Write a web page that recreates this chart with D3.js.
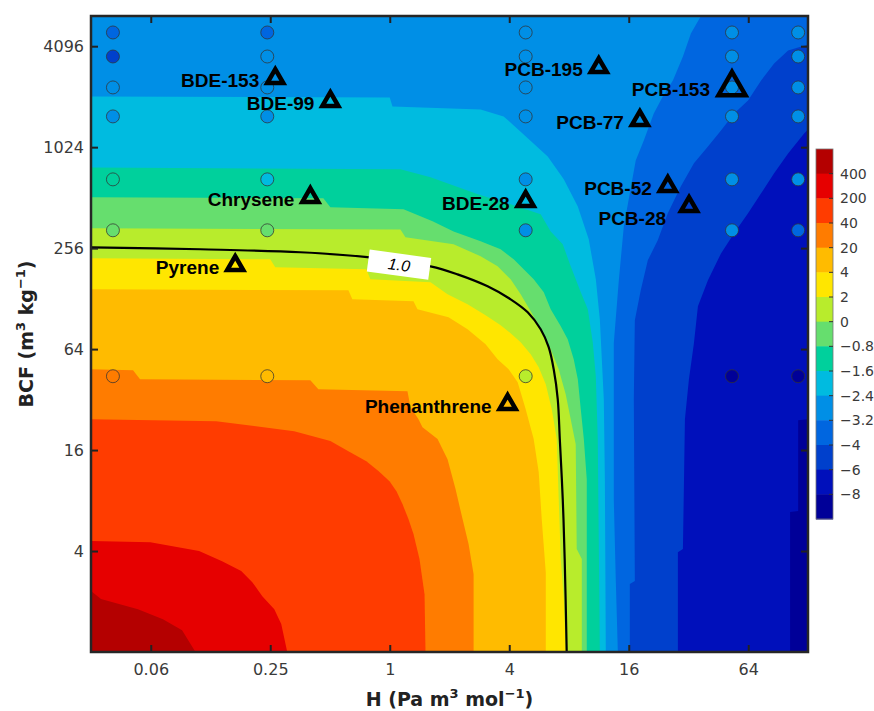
<!DOCTYPE html>
<html>
<head>
<meta charset="utf-8">
<script src="https://cdn.jsdelivr.net/npm/d3@7/dist/d3.min.js"></script>
<style>
  body { margin: 0; background: #fff; }
  svg text { font-family: "DejaVu Sans", sans-serif; }
</style>
</head>
<body>
<svg width="874" height="711"></svg>
<script>
// colour levels, highest band first (15 bands, 14 boundaries)
const levelLabels = ["400", "200", "40", "20", "4", "2", "0", "\u22120.8", "\u22121.6", "\u22122.4", "\u22123.2", "\u22124", "\u22126", "\u22128"];
const levelColors = ["#b40000", "#e60000", "#ff3c00", "#ff7c00", "#ffbb00", "#ffe600", "#b8ec2c",
  "#66de6e", "#00d09c", "#00bbe0", "#008fe6", "#0066e0", "#0040cc", "#0010bb", "#000098"];

// axis ticks
const xTicks = [0.0625, 0.25, 1, 4, 16, 64];
const xTickLabels = ["0.06", "0.25", "1", "4", "16", "64"];
const yTicks = [4, 16, 64, 256, 1024, 4096];
const yTickLabels = ["4", "16", "64", "256", "1024", "4096"];

// filled-contour boundaries, [H, BCF] pairs
const bound400 = [[0.03125, 2.31], [0.0351, 2.07], [0.0539, 1.80], [0.072, 1.57], [0.0899, 1.35], [0.105, 1]];
const bound200 = [[0.03125, 4.59], [0.0622, 4.52], [0.1095, 4.0], [0.143, 3.48], [0.1785, 3.04], [0.203, 2.61], [0.228, 2.15], [0.262, 1.80], [0.284, 1.47], [0.3045, 1]];
const bound40 = [[0.03125, 24.4], [0.1335, 23.8], [0.330, 20.7], [0.502, 18.1], [0.619, 15.75], [0.762, 13.7], [0.877, 12.0], [1.0, 10.4], [1.081, 9.1], [1.159, 7.62], [1.242, 6.2], [1.317, 5.05], [1.412, 3.58], [1.497, 2.21], [1.514, 1]];
const bound20 = [[0.03125, 48.5], [0.0509, 47.9], [0.0552, 42.3], [0.398, 41.7], [0.437, 36.9], [1.228, 35.9], [1.272, 28.8], [1.396, 24.4], [1.462, 21.9], [1.741, 18.6], [1.955, 14.1], [2.145, 9.36], [2.327, 6.2], [2.495, 4.4], [2.645, 2.91], [2.645, 1]];
const bound4 = [[0.03125, 145.5], [0.619, 143.5], [0.648, 126.8], [1.317, 123.4], [1.379, 110.6], [1.978, 99.1], [2.466, 84], [3.04, 68.4], [3.494, 55.7], [3.972, 48.5], [4.41, 40.6], [4.84, 28], [5.31, 18.6], [5.63, 11.8], [5.83, 6.2], [6.11, 2.99], [6.11, 1]];
const bound2 = [[0.03125, 223], [0.25, 219.5], [0.265, 196.7], [0.762, 191.4], [0.799, 166.8], [1.605, 160.1], [1.955, 135.8], [2.466, 118.4], [3.04, 101.8], [3.62, 88.8], [4.065, 79.6], [4.566, 70.3], [5.13, 59.6], [5.63, 49.9], [6.11, 39.5], [6.55, 28], [6.94, 18.6], [7.10, 8.16], [7.27, 3.58], [7.53, 2.07], [7.70, 1]];
const bound0 = [[0.03125, 336], [1.132, 331], [1.2, 297], [2.097, 270], [2.869, 229], [3.494, 199.4], [4.065, 166.8], [4.566, 135.8], [5.13, 107.6], [5.76, 84], [6.47, 63.9], [7.10, 48.5], [7.70, 34.4], [8.16, 24.4], [8.65, 17.3], [8.75, 4.11], [9.28, 3.58], [9.28, 1]];
const boundM08 = [[0.03125, 514], [0.463, 507], [0.502, 448], [1.173, 436], [1.643, 370], [2.097, 322], [2.869, 281], [3.62, 252], [4.21, 219.5], [4.728, 191.4], [5.31, 166.8], [5.97, 139.6], [6.47, 110.6], [7.27, 87.6], [7.88, 73.3], [8.45, 55.7], [8.86, 42.3], [9.17, 28], [9.5, 18.6], [9.83, 10.7], [9.83, 1]];
const boundM16 = [[0.03125, 775], [1.132, 755], [1.605, 677], [2.803, 535], [4.065, 467], [5.76, 407], [6.47, 322], [7.44, 270], [8.16, 199.4], [9.17, 139.6], [9.95, 110.6], [10.54, 70.3], [10.92, 44.1], [11.17, 18.6], [11.44, 1]];
const boundM24 = [[0.03125, 2055], [1.0, 2027], [1.032, 1791], [2.869, 1718], [3.748, 1562], [4.728, 1220], [6.25, 902], [7.53, 658], [8.86, 454], [10.06, 289], [10.92, 166.8], [11.44, 96.4], [11.98, 32.2], [12.13, 10.7], [12.26, 1]];
const boundM32 = [[36.97, 6200], [32.9, 4875], [30.0, 3556], [26.7, 2558], [23.75, 2055], [21.39, 1627], [19.05, 1123], [17.35, 854], [15.11, 345], [14.26, 164.5], [13.45, 69.4], [13.45, 8.16], [13.77, 2.65], [14.1, 1]];
const boundM4 = [[128, 4193], [101.6, 3862], [86.4, 3232], [74.3, 2558], [63.85, 1945], [54.3, 1627], [46.65, 1289], [40.1, 1035], [34.08, 820], [29.3, 598], [25.17, 413], [22.4, 285], [19.96, 216.5], [18.39, 143.5], [17.17, 95.1], [16.97, 32.2], [17.17, 2.65], [16.2, 2.54], [16.2, 1]];
const boundM6 = [[128, 1306], [122.4, 1237], [101.6, 940], [86.4, 715], [74.3, 543], [63.85, 413], [54.3, 314], [46.65, 238], [40.1, 164.5], [35.7, 115.2], [34.08, 69.4], [32.16, 42.3], [30.7, 24.4], [30.0, 4.11], [28.29, 3.94], [28.29, 1]];
const boundM8 = [[128, 24.4], [114.2, 24.1], [114.2, 6.92], [104, 6.83], [104, 1]];
const boundaries = [bound400, bound200, bound40, bound20, bound4, bound2, bound0, boundM08, boundM16, boundM24, boundM32, boundM4, boundM6, boundM8];

// the 1.0 contour line and where its label sits
const contourOne = [[0.03125, 259], [0.111, 252], [0.354, 242], [0.771, 226], [1.605, 199.4], [2.196, 178.6], [3.112, 151.6], [4.065, 126.8], [4.955, 106.1], [5.76, 84], [6.32, 65.7], [6.70, 48.5], [7.02, 32.2], [7.19, 18.6], [7.44, 8.16], [7.61, 3.58], [7.79, 1]];
const contourOneLabel = [1.113, 204];

// sampled points (columns of H, rows of BCF) and the band each one is coloured with
const sampleH = [0.0403, 0.2415, 4.84, 53.0, 114.2];
const sampleBCF = [4945, 3556, 2325, 1562, 658, 327, 44.1];
const sampleBand = [
  [11, 12, 10, 10, 8, 7, 3],
  [11, 10, 10, 10, 9, 7, 4],
  [10, 10, 10, 10, 10, 10, 6],
  [10, 10, 10, 10, 10, 10, 14],
  [10, 10, 10, 10, 10, 11, 14]
];

// compounds
const compounds = ["BDE-153", "BDE-99", "Chrysene", "Pyrene", "BDE-28", "PCB-195", "PCB-153", "PCB-77", "PCB-52", "PCB-28", "Phenanthrene"];
const compoundH = [0.265, 0.502, 0.398, 0.1665, 4.84, 11.3, 53.0, 18.2, 25.17, 32.2, 3.925];
const compoundBCF = [2631, 1919, 514, 202, 487, 3057, 2325, 1479, 598, 454, 30.0];

const svg = d3.select("svg");
const plot = { left: 91, right: 808, top: 16, bottom: 652 };

const x = d3.scaleLog().base(2).domain([1 / 32, 128]).range([plot.left, plot.right]);
const y = d3.scaleLog().base(2).domain([1, 6200]).range([plot.bottom, plot.top]);

svg.append("defs").append("clipPath").attr("id", "plotClip")
  .append("rect")
  .attr("x", plot.left).attr("y", plot.top)
  .attr("width", plot.right - plot.left).attr("height", plot.bottom - plot.top);

// filled contours: lowest band as background, then paint each higher region on top
const field = svg.append("g").attr("clip-path", "url(#plotClip)");
field.append("rect")
  .attr("x", plot.left).attr("y", plot.top)
  .attr("width", plot.right - plot.left).attr("height", plot.bottom - plot.top)
  .attr("fill", levelColors[14]);

const line = d3.line();
for (let i = boundaries.length - 1; i >= 0; i--) {
  const pts = boundaries[i].map(([h, b]) => [x(h), y(b)]);
  const [sx, sy] = pts[0];
  pts.push([plot.left, plot.bottom]);
  if (sy <= plot.top + 0.5 || sx >= plot.right - 0.5) pts.push([plot.left, plot.top]);
  if (sx >= plot.right - 0.5) pts.push([plot.right, plot.top]);
  field.append("path")
    .attr("d", line(pts) + "Z")
    .attr("fill", levelColors[i]);
}

// sample circles
const samples = [];
sampleH.forEach((h, c) => sampleBCF.forEach((b, r) => samples.push({ h, b, band: sampleBand[c][r] })));
field.selectAll(".sample")
  .data(samples)
  .enter().append("circle")
  .attr("class", "sample")
  .attr("cx", d => x(d.h))
  .attr("cy", d => y(d.b))
  .attr("r", 6.5)
  .attr("fill", d => levelColors[d.band])
  .attr("stroke", "#333")
  .attr("stroke-opacity", 0.75)
  .attr("stroke-width", 1);

// 1.0 contour
field.append("path")
  .attr("d", d3.line().x(d => x(d[0])).y(d => y(d[1])).curve(d3.curveCatmullRom.alpha(0.5))(contourOne))
  .attr("fill", "none")
  .attr("stroke", "#000")
  .attr("stroke-width", 2.2);

const lab = field.append("g")
  .attr("transform", `translate(${x(contourOneLabel[0])},${y(contourOneLabel[1])}) rotate(7.7)`);
lab.append("rect").attr("x", -31).attr("y", -11).attr("width", 62).attr("height", 22).attr("fill", "#fff");
lab.append("text")
  .attr("text-anchor", "middle").attr("dy", "0.36em")
  .style("font-family", "'Liberation Sans', Arial, sans-serif")
  .style("font-style", "italic").style("font-size", "16px")
  .text("1.0");

// compound markers and labels
compounds.forEach((name, i) => {
  const cx = x(compoundH[i]), cy = y(compoundBCF[i]);
  const big = name === "PCB-153";
  field.append("path")
    .attr("d", d3.symbol(d3.symbolTriangle, big ? 316 : 111)())
    .attr("transform", `translate(${cx},${cy})`)
    .attr("fill", "none")
    .attr("stroke", "#000")
    .attr("stroke-width", 4.5)
    .attr("stroke-linejoin", "miter");
  const below = name === "PCB-28";
  svg.append("text")
    .attr("x", cx - (big ? 22 : below ? 23 : 16))
    .attr("y", cy + (below ? 12 : 2))
    .attr("dy", "0.36em")
    .attr("text-anchor", "end")
    .style("font-family", "'Liberation Sans', Arial, sans-serif")
    .style("font-weight", "bold")
    .style("font-size", "19px")
    .text(name);
});

// axes
function styleAxis(g) {
  g.select(".domain").remove();
  g.selectAll(".tick line").attr("stroke", "#222").attr("stroke-width", 2);
  g.selectAll(".tick text")
    .attr("fill", "#3a3a3a")
    .style("font-family", "'DejaVu Sans', sans-serif")
    .style("font-size", "16px");
}

svg.append("g")
  .attr("transform", `translate(0,${plot.bottom})`)
  .call(d3.axisBottom(x).tickValues(xTicks).tickFormat((d, i) => xTickLabels[i])
    .tickSizeInner(-7).tickSizeOuter(0).tickPadding(12))
  .call(styleAxis);
svg.append("g")
  .attr("transform", `translate(0,${plot.top})`)
  .call(d3.axisTop(x).tickValues(xTicks).tickFormat("").tickSizeInner(-7).tickSizeOuter(0))
  .call(styleAxis);
svg.append("g")
  .attr("transform", `translate(${plot.left},0)`)
  .call(d3.axisLeft(y).tickValues(yTicks).tickFormat((d, i) => yTickLabels[i])
    .tickSizeInner(-7).tickSizeOuter(0).tickPadding(7))
  .call(styleAxis);
svg.append("g")
  .attr("transform", `translate(${plot.right},0)`)
  .call(d3.axisRight(y).tickValues(yTicks).tickFormat("").tickSizeInner(-7).tickSizeOuter(0))
  .call(styleAxis);

// frame
svg.append("rect")
  .attr("x", plot.left).attr("y", plot.top)
  .attr("width", plot.right - plot.left).attr("height", plot.bottom - plot.top)
  .attr("fill", "none").attr("stroke", "#262626").attr("stroke-width", 2.5);

// axis titles
const xTitle = svg.append("text")
  .attr("x", (plot.left + plot.right) / 2).attr("y", 706)
  .attr("text-anchor", "middle")
  .style("font-size", "19px").style("font-weight", "bold").attr("fill", "#222");
xTitle.append("tspan").text("H (Pa m");
xTitle.append("tspan").attr("dy", -8).style("font-size", "13px").text("3");
xTitle.append("tspan").attr("dy", 8).text(" mol");
xTitle.append("tspan").attr("dy", -8).style("font-size", "13px").text("\u22121");
xTitle.append("tspan").attr("dy", 8).text(")");

const yTitle = svg.append("text")
  .attr("transform", `translate(33,${(plot.top + plot.bottom) / 2}) rotate(-90)`)
  .attr("text-anchor", "middle")
  .style("font-size", "19px").style("font-weight", "bold").attr("fill", "#222");
yTitle.append("tspan").text("BCF (m");
yTitle.append("tspan").attr("dy", -8).style("font-size", "13px").text("3");
yTitle.append("tspan").attr("dy", 8).text(" kg");
yTitle.append("tspan").attr("dy", -8).style("font-size", "13px").text("\u22121");
yTitle.append("tspan").attr("dy", 8).text(")");

// colour bar
const cbX = 816, cbW = 17;
const cb = d3.scaleBand().domain(d3.range(levelColors.length)).range([149, 519]);
const cbar = svg.append("g");
cbar.selectAll("rect.band")
  .data(levelColors)
  .enter().append("rect")
  .attr("class", "band")
  .attr("x", cbX).attr("y", (d, i) => cb(i))
  .attr("width", cbW).attr("height", cb.bandwidth() + 0.5)
  .attr("fill", d => d);
cbar.append("rect")
  .attr("x", cbX).attr("y", 149).attr("width", cbW).attr("height", 370)
  .attr("fill", "none").attr("stroke", "#777").attr("stroke-width", 0.8);
cbar.selectAll("line.cbtick")
  .data(levelLabels)
  .enter().append("line")
  .attr("class", "cbtick")
  .attr("x1", cbX + cbW - 4).attr("x2", cbX + cbW)
  .attr("y1", (d, i) => cb(i + 1)).attr("y2", (d, i) => cb(i + 1))
  .attr("stroke", "#333").attr("stroke-width", 1);
cbar.selectAll("text")
  .data(levelLabels)
  .enter().append("text")
  .attr("x", cbX + cbW + 7)
  .attr("y", (d, i) => cb(i + 1))
  .attr("dy", "0.36em")
  .attr("fill", "#3a3a3a")
  .style("font-size", "14px")
  .text(d => d);
</script>
</body>
</html>
